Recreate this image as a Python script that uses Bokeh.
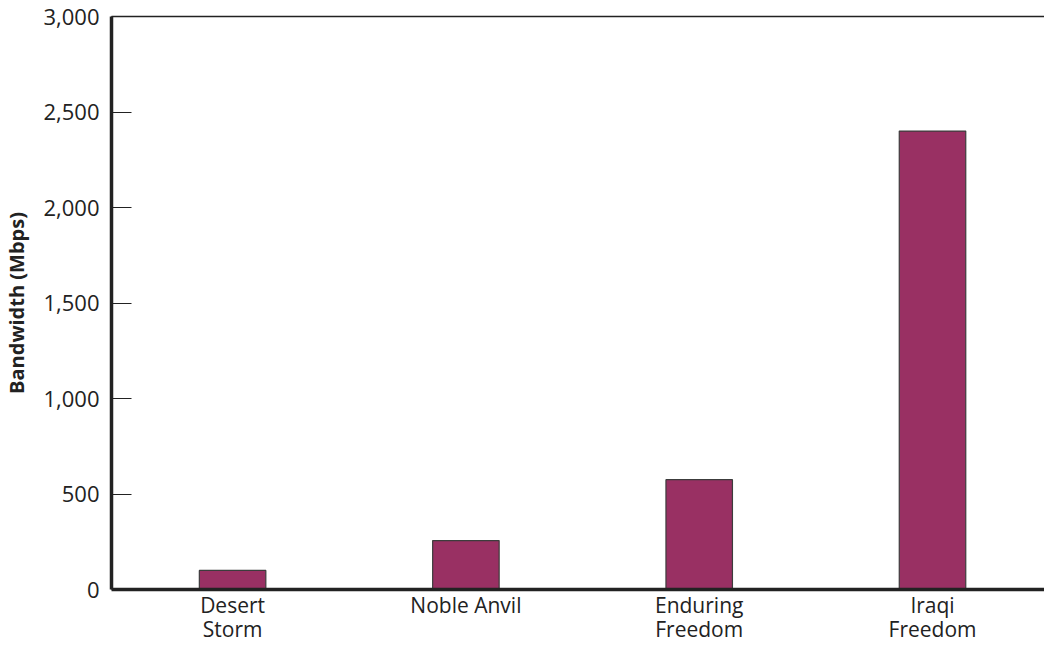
from bokeh.plotting import figure
from bokeh.models import Range1d, FixedTicker, LinearAxis, NumeralTickFormatter
from bokeh.embed import file_html
from bokeh.resources import INLINE

# Data
categories = ["Desert\nStorm", "Noble Anvil", "Enduring\nFreedom", "Iraqi\nFreedom"]
bandwidth = [100, 256, 575, 2400]
y_ticks = [0, 500, 1000, 1500, 2000, 2500, 3000]

xs = list(range(len(categories)))

FONT = "Open Sans"
TXT = "#222222"

p = figure(width=1044, height=646, output_backend="svg", toolbar_location=None,
           x_range=Range1d(-0.519, 3.48), y_range=Range1d(0, 3000),
           min_border_left=111, min_border_top=16, min_border_right=0,
           min_border_bottom=56, x_axis_type=None, y_axis_type=None)
p.outline_line_color = None
p.grid.visible = False
p.background_fill_color = "white"
p.border_fill_color = "white"

p.vbar(x=xs, top=bandwidth, width=0.285, bottom=0,
       fill_color="#993063", line_color="#3c3c3c", line_width=1.2)

# Left axis
ya = LinearAxis(ticker=FixedTicker(ticks=y_ticks),
                formatter=NumeralTickFormatter(format="0,0"),
                axis_label="Bandwidth (Mbps)")
ya.axis_line_width = 3.5
ya.axis_line_color = TXT
ya.major_tick_in = 20
ya.major_tick_out = 0
ya.major_tick_line_width = 1.2
ya.major_tick_line_color = TXT
ya.minor_tick_line_color = None
ya.major_label_standoff = 12
ya.major_label_text_font = FONT
ya.major_label_text_font_size = "22px"
ya.major_label_text_color = TXT
ya.axis_label_text_font = FONT
ya.axis_label_text_font_size = "20px"
ya.axis_label_text_font_style = "bold"
ya.axis_label_text_color = TXT
ya.axis_label_standoff = 10
p.add_layout(ya, "left")

# Bottom axis
xa = LinearAxis(ticker=FixedTicker(ticks=xs),
                major_label_overrides={i: c for i, c in zip(xs, categories)})
xa.axis_line_width = 3.5
xa.axis_line_color = TXT
xa.major_tick_line_color = None
xa.minor_tick_line_color = None
xa.major_tick_in = 0
xa.major_tick_out = 0
xa.major_label_standoff = 1
xa.major_label_text_font = FONT
xa.major_label_text_font_size = "21px"
xa.major_label_text_color = TXT
xa.major_label_text_line_height = 0.88
p.add_layout(xa, "below")

# Thin top line
ta = LinearAxis(ticker=FixedTicker(ticks=[]))
ta.axis_line_width = 1.5
ta.axis_line_color = TXT
ta.major_tick_line_color = None
ta.minor_tick_line_color = None
ta.major_label_text_font_size = "0px"
p.add_layout(ta, "above")

open("out.html", "w").write(file_html(p, INLINE))
